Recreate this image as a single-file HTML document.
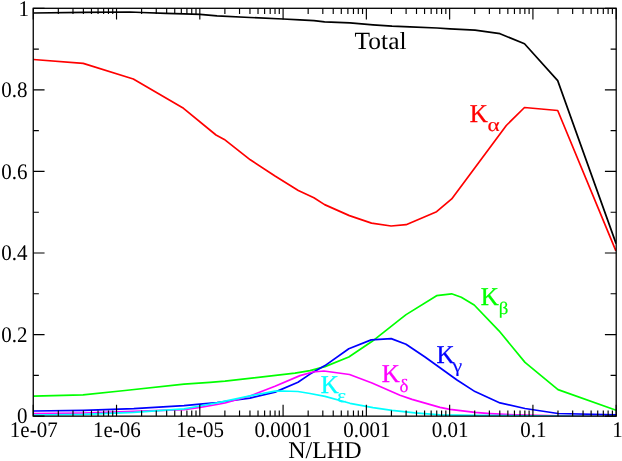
<!DOCTYPE html>
<html><head><meta charset="utf-8"><title>plot</title>
<style>html,body{margin:0;padding:0;background:#fff;}svg{display:block;will-change:transform;}text{font-family:"Liberation Serif",serif;text-rendering:geometricPrecision;}</style></head>
<body>
<svg width="622" height="461" viewBox="0 0 622 461">
<rect x="0" y="0" width="622" height="461" fill="#ffffff"/>
<defs><clipPath id="c"><rect x="33.25" y="8.30" width="582.95" height="407.85"/></clipPath></defs><g clip-path="url(#c)">
<polyline fill="none" stroke="#000000" stroke-width="1.7" stroke-linejoin="round" stroke-linecap="butt" points="33.4,13.0 83.6,12.4 130.0,12.0 141.7,12.5 166.0,13.3 184.0,13.8 200.0,14.3 217.0,15.9 250.0,17.5 283.0,19.0 300.0,19.9 314.0,20.6 324.6,21.9 350.0,22.9 373.0,24.9 392.0,26.2 410.0,26.9 437.0,28.0 450.0,28.8 475.0,30.2 500.0,33.7 524.5,43.8 557.7,80.6 616.1,243.6"/>
<polyline fill="none" stroke="#ff0000" stroke-width="1.7" stroke-linejoin="round" stroke-linecap="butt" points="33.4,59.5 83.2,63.4 133.3,79.0 183.5,108.3 216.0,135.0 224.3,139.4 250.3,159.8 275.0,176.0 298.3,190.5 313.9,197.8 324.6,204.6 349.4,215.6 371.5,223.1 391.1,226.0 406.1,224.7 436.6,211.7 451.7,198.9 460.8,186.7 506.3,125.5 524.5,107.5 557.7,110.5 615.9,250.8"/>
<polyline fill="none" stroke="#00ff00" stroke-width="1.7" stroke-linejoin="round" stroke-linecap="butt" points="33.4,396.2 83.0,394.9 125.0,390.5 184.0,384.1 210.0,382.3 225.0,381.1 295.0,373.2 310.0,370.6 325.0,366.6 348.8,357.0 372.2,341.3 400.0,319.4 406.1,314.6 436.6,295.7 451.6,293.8 461.3,297.3 474.2,305.0 499.0,330.8 525.0,362.4 558.0,389.6 616.1,410.3"/>
<polyline fill="none" stroke="#0000ff" stroke-width="1.7" stroke-linejoin="round" stroke-linecap="butt" points="33.4,411.0 83.6,410.3 133.8,408.6 184.0,405.6 200.0,404.1 217.0,402.5 250.0,398.2 275.0,392.1 298.0,382.2 310.0,374.1 325.0,365.6 348.8,348.7 371.2,339.9 391.2,338.6 406.0,344.2 425.0,357.0 457.0,380.0 475.0,391.6 500.0,402.9 525.0,408.5 558.0,413.5 616.5,414.9"/>
<polyline fill="none" stroke="#ff00ff" stroke-width="1.7" stroke-linejoin="round" stroke-linecap="butt" points="33.4,413.7 83.6,413.0 133.8,411.4 184.0,409.7 200.0,407.4 217.0,404.5 225.0,403.0 250.0,396.0 275.0,386.3 300.0,375.6 313.0,372.0 324.0,371.0 349.5,374.5 372.0,383.0 392.0,391.8 400.0,395.2 412.0,399.4 440.0,407.4 450.0,409.3 475.0,412.4 490.0,413.6 500.0,414.2 525.0,415.2 558.0,415.8 616.5,416.5"/>
<polyline fill="none" stroke="#00ffff" stroke-width="1.7" stroke-linejoin="round" stroke-linecap="butt" points="33.4,415.0 83.6,414.4 133.8,412.3 184.0,408.9 200.0,406.0 217.0,402.9 250.0,395.8 275.0,391.2 283.0,391.0 298.0,391.5 310.0,393.5 325.0,396.4 350.0,403.3 373.0,407.7 392.0,410.3 415.0,412.8 440.0,414.8 475.0,415.4 525.0,415.8 616.5,416.6"/>
</g>
<path d="M33.25 416.15V404.85M33.25 8.30V19.60M58.32 416.15V410.55M58.32 8.30V13.90M72.98 416.15V410.55M72.98 8.30V13.90M83.39 416.15V410.55M83.39 8.30V13.90M91.46 416.15V410.55M91.46 8.30V13.90M98.05 416.15V410.55M98.05 8.30V13.90M103.63 416.15V410.55M103.63 8.30V13.90M108.46 416.15V410.55M108.46 8.30V13.90M112.72 416.15V410.55M112.72 8.30V13.90M116.53 416.15V404.85M116.53 8.30V19.60M141.60 416.15V410.55M141.60 8.30V13.90M156.26 416.15V410.55M156.26 8.30V13.90M166.67 416.15V410.55M166.67 8.30V13.90M174.74 416.15V410.55M174.74 8.30V13.90M181.33 416.15V410.55M181.33 8.30V13.90M186.91 416.15V410.55M186.91 8.30V13.90M191.74 416.15V410.55M191.74 8.30V13.90M196.00 416.15V410.55M196.00 8.30V13.90M199.81 416.15V404.85M199.81 8.30V19.60M224.88 416.15V410.55M224.88 8.30V13.90M239.54 416.15V410.55M239.54 8.30V13.90M249.95 416.15V410.55M249.95 8.30V13.90M258.02 416.15V410.55M258.02 8.30V13.90M264.61 416.15V410.55M264.61 8.30V13.90M270.19 416.15V410.55M270.19 8.30V13.90M275.02 416.15V410.55M275.02 8.30V13.90M279.28 416.15V410.55M279.28 8.30V13.90M283.09 416.15V404.85M283.09 8.30V19.60M308.16 416.15V410.55M308.16 8.30V13.90M322.82 416.15V410.55M322.82 8.30V13.90M333.22 416.15V410.55M333.22 8.30V13.90M341.29 416.15V410.55M341.29 8.30V13.90M347.89 416.15V410.55M347.89 8.30V13.90M353.46 416.15V410.55M353.46 8.30V13.90M358.29 416.15V410.55M358.29 8.30V13.90M362.55 416.15V410.55M362.55 8.30V13.90M366.36 416.15V404.85M366.36 8.30V19.60M391.43 416.15V410.55M391.43 8.30V13.90M406.10 416.15V410.55M406.10 8.30V13.90M416.50 416.15V410.55M416.50 8.30V13.90M424.57 416.15V410.55M424.57 8.30V13.90M431.17 416.15V410.55M431.17 8.30V13.90M436.74 416.15V410.55M436.74 8.30V13.90M441.57 416.15V410.55M441.57 8.30V13.90M445.83 416.15V410.55M445.83 8.30V13.90M449.64 416.15V404.85M449.64 8.30V19.60M474.71 416.15V410.55M474.71 8.30V13.90M489.38 416.15V410.55M489.38 8.30V13.90M499.78 416.15V410.55M499.78 8.30V13.90M507.85 416.15V410.55M507.85 8.30V13.90M514.45 416.15V410.55M514.45 8.30V13.90M520.02 416.15V410.55M520.02 8.30V13.90M524.85 416.15V410.55M524.85 8.30V13.90M529.11 416.15V410.55M529.11 8.30V13.90M532.92 416.15V404.85M532.92 8.30V19.60M557.99 416.15V410.55M557.99 8.30V13.90M572.66 416.15V410.55M572.66 8.30V13.90M583.06 416.15V410.55M583.06 8.30V13.90M591.13 416.15V410.55M591.13 8.30V13.90M597.72 416.15V410.55M597.72 8.30V13.90M603.30 416.15V410.55M603.30 8.30V13.90M608.13 416.15V410.55M608.13 8.30V13.90M612.39 416.15V410.55M612.39 8.30V13.90M616.20 416.15V404.85M616.20 8.30V19.60M33.25 416.15H44.55M616.20 416.15H604.90M33.25 375.37H38.85M616.20 375.37H610.60M33.25 334.58H44.55M616.20 334.58H604.90M33.25 293.79H38.85M616.20 293.79H610.60M33.25 253.01H44.55M616.20 253.01H604.90M33.25 212.22H38.85M616.20 212.22H610.60M33.25 171.44H44.55M616.20 171.44H604.90M33.25 130.66H38.85M616.20 130.66H610.60M33.25 89.87H44.55M616.20 89.87H604.90M33.25 49.08H38.85M616.20 49.08H610.60M33.25 8.30H44.55M616.20 8.30H604.90" stroke="#000" stroke-width="1.15" fill="none"/>
<rect x="33.25" y="8.30" width="582.95" height="407.85" fill="none" stroke="#000" stroke-width="1.3"/>
<text transform="translate(33.75,436.70) scale(1.0,1.06)" font-size="21" text-anchor="middle" fill="#000">1e-07</text>
<text transform="translate(116.93,436.70) scale(1.0,1.06)" font-size="21" text-anchor="middle" fill="#000">1e-06</text>
<text transform="translate(200.21,436.70) scale(1.0,1.06)" font-size="21" text-anchor="middle" fill="#000">1e-05</text>
<text transform="translate(283.49,436.70) scale(1.0,1.06)" font-size="21" text-anchor="middle" fill="#000">0.0001</text>
<text transform="translate(366.76,436.70) scale(1.0,1.06)" font-size="21" text-anchor="middle" fill="#000">0.001</text>
<text transform="translate(450.04,436.70) scale(1.0,1.06)" font-size="21" text-anchor="middle" fill="#000">0.01</text>
<text transform="translate(533.32,436.70) scale(1.0,1.06)" font-size="21" text-anchor="middle" fill="#000">0.1</text>
<text transform="translate(617.50,436.70) scale(1.0,1.06)" font-size="21" text-anchor="middle" fill="#000">1</text>
<text transform="translate(27.40,423.45) scale(1.0,1.06)" font-size="21" text-anchor="end" fill="#000">0</text>
<text transform="translate(27.40,341.88) scale(1.0,1.06)" font-size="21" text-anchor="end" fill="#000">0.2</text>
<text transform="translate(27.40,260.31) scale(1.0,1.06)" font-size="21" text-anchor="end" fill="#000">0.4</text>
<text transform="translate(27.40,178.74) scale(1.0,1.06)" font-size="21" text-anchor="end" fill="#000">0.6</text>
<text transform="translate(27.40,97.17) scale(1.0,1.06)" font-size="21" text-anchor="end" fill="#000">0.8</text>
<text transform="translate(29.00,15.60) scale(1.0,1.06)" font-size="21" text-anchor="end" fill="#000">1</text>
<text transform="translate(324.80,458.40) scale(1.0,1.0)" font-size="24.0" text-anchor="middle" fill="#000">N/LHD</text>
<text transform="translate(354.60,49.20) scale(1.03,1.0)" font-size="24.7" text-anchor="start" fill="#000">Total</text>
<text transform="translate(469.70,121.50) scale(1.0,1.035)" font-size="24.9" text-anchor="start" fill="#ff0000" stroke="#ff0000" stroke-width="0.35">K</text>
<text transform="translate(487.40,131.20) scale(1.22,1)" font-size="19" text-anchor="start" fill="#ff0000" stroke="#ff0000" stroke-width="0.15">α</text>
<text transform="translate(480.70,304.80) scale(1.0,1.035)" font-size="24.9" text-anchor="start" fill="#00ff00" stroke="#00ff00" stroke-width="0.35">K</text>
<text transform="translate(498.70,314.30) scale(1.08,1)" font-size="17.5" text-anchor="start" fill="#00ff00" stroke="#00ff00" stroke-width="0.15">β</text>
<text transform="translate(436.50,362.60) scale(1.0,1.035)" font-size="24.9" text-anchor="start" fill="#0000ff" stroke="#0000ff" stroke-width="0.35">K</text>
<text transform="translate(452.80,372.30) scale(1.12,1)" font-size="19" text-anchor="start" fill="#0000ff" stroke="#0000ff" stroke-width="0.15">γ</text>
<text transform="translate(381.70,381.80) scale(1.0,1.035)" font-size="24.9" text-anchor="start" fill="#ff00ff" stroke="#ff00ff" stroke-width="0.35">K</text>
<text transform="translate(399.40,391.50) scale(1.0,1)" font-size="19" text-anchor="start" fill="#ff00ff" stroke="#ff00ff" stroke-width="0.15">δ</text>
<text transform="translate(320.70,392.80) scale(1.0,1.035)" font-size="24.9" text-anchor="start" fill="#00ffff" stroke="#00ffff" stroke-width="0.35">K</text>
<text transform="translate(337.30,402.00) scale(1.1,1)" font-size="19" text-anchor="start" fill="#00ffff" stroke="#00ffff" stroke-width="0.15">ε</text>
</svg></body></html>
